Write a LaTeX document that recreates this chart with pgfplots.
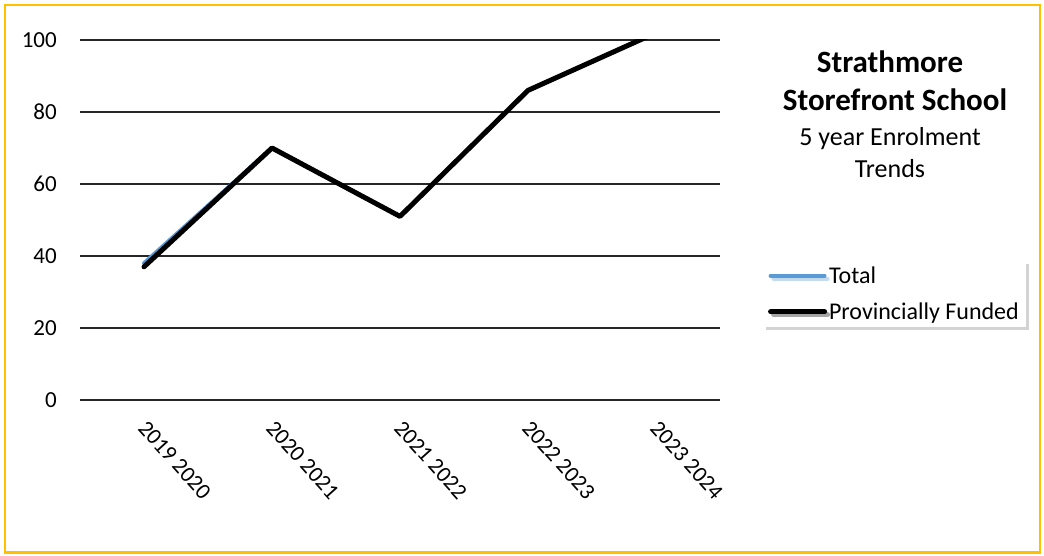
\documentclass[border=0pt]{standalone}
\usepackage{fontspec}
\setmainfont{Carlito}
\usepackage{pgfplots}
\pgfplotsset{compat=1.18}
\usetikzlibrary{shadows}
\definecolor{totalblue}{HTML}{5B9BD5}
\definecolor{borderyellow}{HTML}{FFC000}

\begin{document}
\begin{tikzpicture}[x=1pt,y=1pt]
\useasboundingbox (0,0) rectangle (1044,556);
\draw[borderyellow, line width=2.5pt] (5,3.5) rectangle (1040,551);
\begin{axis}[
    at={(80pt,156pt)}, anchor=south west,
    scale only axis, width=640pt, height=360pt,
    xmin=-0.5, xmax=4.5, ymin=0, ymax=100,
    xtick={0,1,2,3,4},
    xticklabels={2019 2020, 2020 2021, 2021 2022, 2022 2023, 2023 2024},
    ytick={0,20,...,100},
    axis line style={draw=none},
    major tick length=0pt,
    ymajorgrids, grid style={black!85, line width=1.3pt},
    /pgf/number format/assume math mode=true,
    yticklabel style={font=\fontsize{23}{27}\selectfont, anchor=east, inner sep=0pt, xshift=-23pt},
    xticklabel style={font=\fontsize{22.5}{26}\selectfont, xshift=4pt, yshift=-19pt, rotate=-48, anchor=north west, inner sep=0pt},
    legend style={at={(1.067,0.388)}, anchor=north west, draw=none, fill=white,
        drop shadow={opacity=0.35, shadow xshift=3pt, shadow yshift=-3pt},
        font=\fontsize{24}{28}\selectfont, inner xsep=5pt, inner ysep=5pt,
        /tikz/row sep=16pt, nodes={inner xsep=2pt, inner ysep=1pt}},
    legend cell align=left,
    legend image code/.code={\draw[#1, line cap=round] (0pt,0pt) -- (54pt,0pt);},
]
\addplot[totalblue, line width=4pt, line join=round, line cap=round]
    coordinates {(0,38)(1,70)(2,51)(3,86)(4,102)};
\addlegendentry{Total}
\addplot[black, line width=5pt, line join=round, line cap=round]
    coordinates {(0,37)(1,70)(2,51)(3,86)(4,102)};
\addlegendentry{Provincially Funded}
\end{axis}
\node[anchor=base, font=\fontsize{31}{37}\selectfont\bfseries] at (890,483) {Strathmore};
\node[anchor=base, font=\fontsize{31}{37}\selectfont\bfseries] at (895,445) {Storefront School};
\node[anchor=base, font=\fontsize{26}{30}\selectfont] at (890,410) {5 year Enrolment};
\node[anchor=base, font=\fontsize{26}{30}\selectfont] at (890,378) {Trends};
\end{tikzpicture}
\end{document}
